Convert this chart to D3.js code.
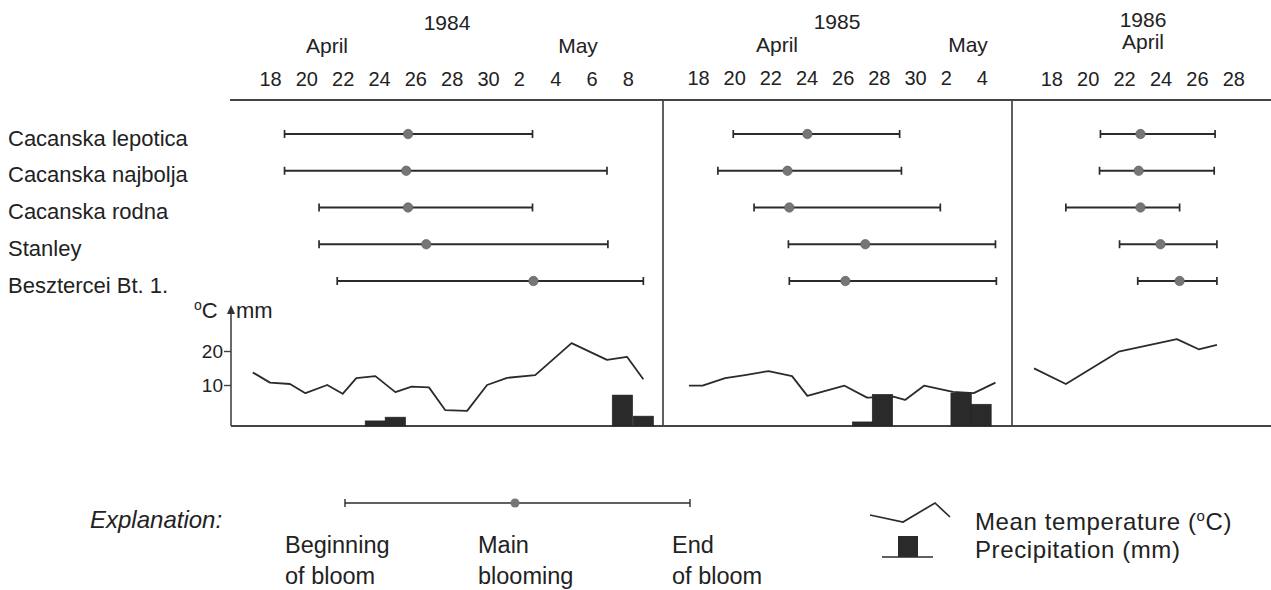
<!DOCTYPE html>
<html><head><meta charset="utf-8">
<script src="https://cdn.jsdelivr.net/npm/d3@7"></script>
<style>
body{margin:0;background:#fff;}
svg{display:block;font-family:"Liberation Sans", Arial, Helvetica, sans-serif;fill:#222;}
</style></head><body>
<svg id="c" width="1271" height="590"></svg>
<script>
// ---------- DATA (days counted from April; May 1 = 31) ----------
const varieties = ["Cacanska lepotica","Cacanska najbolja","Cacanska rodna","Stanley","Besztercei Bt. 1."];
const years = ["1984","1985","1986"];

// [beginning, main blooming, end]
const bloom1984 = [[18.8,25.6,32.45],[18.8,25.5,36.55],[20.7,25.6,32.45],[20.7,26.6,36.6],[21.7,32.5,38.55]];
const bloom1985 = [[19.95,24.05,29.15],[19.1,22.95,29.25],[21.1,23.05,31.4],[23.0,27.25,34.45],[23.05,26.15,34.5]];
const bloom1986 = [[20.7,22.9,27.0],[20.65,22.8,26.95],[18.8,22.9,25.05],[21.75,24.0,27.1],[22.75,25.05,27.1]];

// mean temperature (°C)
const tempDays1984 = [17.05,18,19.1,19.95,21.15,22,22.75,23.8,24.9,25.8,26.75,27.65,28.85,29.95,31.05,32.6,34.6,36.55,37.65,38.55];
const temp1984     = [13.7,10.7,10.3,7.6,10,7.4,12,12.6,7.9,9.5,9.3,2.6,2.4,10,12.1,12.9,22.3,17.4,18.3,11.7];
const tempDays1985 = [17.5,18.25,19.5,20.6,21.9,23.2,24.05,26.1,27.35,28.8,29.45,30.5,32.1,33.25,34.45];
const temp1985     = [9.8,9.8,12.0,12.9,14.1,12.6,6.8,9.8,6.3,6.6,5.6,9.8,8.0,7.6,10.7];
const tempDays1986 = [17.05,18.8,21.7,24.9,26.1,27.1];
const temp1986     = [14.9,10.3,19.8,23.5,20.5,21.8];

// precipitation (mm)
const precDays1984 = [23.8,24.9,37.4,38.55];
const prec1984     = [1.5,2.6,9.1,2.9];
const precDays1985 = [27.1,28.2,32.55,33.65];
const prec1985     = [1.2,9.3,9.7,6.4];
const precDays1986 = [];
const prec1986     = [];

// tick labels
const ticks1984 = [18,20,22,24,26,28,30,32,34,36,38];
const tickLabels1984 = ["18","20","22","24","26","28","30","2","4","6","8"];
const ticks1985 = [18,20,22,24,26,28,30,32,34];
const tickLabels1985 = ["18","20","22","24","26","28","30","2","4"];
const ticks1986 = [18,20,22,24,26,28];
const tickLabels1986 = ["18","20","22","24","26","28"];
const tempTicks = [10,20];

// ---------- LAYOUT ----------
const svg = d3.select("#c");
const INK = "#2b2b2b";
const topY = 100, baseY = 426, axisX = 231, dividers = [663, 1012];

const panels = [
  {year:"1984", x:d3.scaleLinear().domain([18,30]).range([270,488]), bloom:bloom1984,
   td:tempDays1984, t:temp1984, pd:precDays1984, p:prec1984, ticks:ticks1984, labels:tickLabels1984,
   tickY:86, yearPos:[447,30], months:[["April",327,53],["May",578,53]]},
  {year:"1985", x:d3.scaleLinear().domain([18,30]).range([698,915]), bloom:bloom1985,
   td:tempDays1985, t:temp1985, pd:precDays1985, p:prec1985, ticks:ticks1985, labels:tickLabels1985,
   tickY:85, yearPos:[837,28.5], months:[["April",777,51.5],["May",968,51.5]]},
  {year:"1986", x:d3.scaleLinear().domain([18,28]).range([1051.3,1233.3]), bloom:bloom1986,
   td:tempDays1986, t:temp1986, pd:precDays1986, p:prec1986, ticks:ticks1986, labels:tickLabels1986,
   tickY:86, yearPos:[1143,26.5], months:[["April",1143,49]]}
];

const yRow = d3.scalePoint().domain(varieties).range([134, 281]);
const yT = d3.scaleLinear().domain([10,20]).range([385,351]);
const yP = d3.scaleLinear().domain([0,10]).range([baseY, baseY-34]);

// frame lines
svg.append("line").attr("x1",axisX-1).attr("x2",1271).attr("y1",topY).attr("y2",topY)
  .attr("stroke","#444").attr("stroke-width",2);
svg.append("line").attr("x1",axisX).attr("x2",1271).attr("y1",baseY).attr("y2",baseY)
  .attr("stroke","#444").attr("stroke-width",2);
dividers.forEach(dx => svg.append("line").attr("x1",dx).attr("x2",dx).attr("y1",topY).attr("y2",baseY)
  .attr("stroke","#444").attr("stroke-width",1.7));

// variety labels
svg.append("g").selectAll("text").data(varieties).join("text")
  .attr("x",8).attr("y",d=>yRow(d)+11.5).attr("font-size",22).attr("fill","#222").text(d=>d);

panels.forEach(P => {
  const g = svg.append("g");
  // year + months
  g.append("text").attr("x",P.yearPos[0]).attr("y",P.yearPos[1]).attr("text-anchor","middle")
    .attr("font-size",21).attr("fill","#222").text(P.year);
  P.months.forEach(m => g.append("text").attr("x",m[1]).attr("y",m[2]).attr("text-anchor","middle")
    .attr("font-size",21).attr("fill","#222").text(m[0]));
  // day axis
  const ax = g.append("g").attr("transform",`translate(0,${P.tickY})`)
    .call(d3.axisTop(P.x).tickValues(P.ticks).tickFormat((d,i)=>P.labels[i]).tickSize(0));
  ax.select(".domain").remove();
  ax.selectAll("text").attr("y",0).attr("dy",null).attr("font-size",20)
    .attr("font-family","Liberation Sans, Arial, sans-serif").attr("fill","#222")
    .attr("text-anchor",(d,i)=>P.labels[i].length===1?"start":"middle")
    .attr("x",(d,i)=>P.labels[i].length===1?-11:0);

  // bloom intervals
  const rows = g.append("g").selectAll("g").data(P.bloom).join("g")
    .attr("transform",(d,i)=>`translate(0,${yRow(varieties[i])})`);
  rows.append("line").attr("x1",d=>P.x(d[0])).attr("x2",d=>P.x(d[2]))
    .attr("stroke",INK).attr("stroke-width",1.8);
  rows.append("line").attr("x1",d=>P.x(d[0])).attr("x2",d=>P.x(d[0])).attr("y1",-4).attr("y2",4)
    .attr("stroke",INK).attr("stroke-width",1.7);
  rows.append("line").attr("x1",d=>P.x(d[2])).attr("x2",d=>P.x(d[2])).attr("y1",-4).attr("y2",4)
    .attr("stroke",INK).attr("stroke-width",1.7);
  rows.append("circle").attr("cx",d=>P.x(d[1])).attr("r",4.7).attr("fill","#767676")
    .attr("stroke","#5e5e5e").attr("stroke-width",0.7);

  // precipitation bars
  const bw = 20.4;
  g.append("g").selectAll("rect").data(P.pd.map((d,i)=>[d,P.p[i]])).join("rect")
    .attr("x",d=>P.x(d[0])-bw/2).attr("width",bw)
    .attr("y",d=>yP(d[1])).attr("height",d=>baseY-yP(d[1]))
    .attr("fill","#2a2a2a").attr("stroke","#222").attr("stroke-width",0.6);

  // temperature line
  const line = d3.line().x(d=>P.x(d[0])).y(d=>yT(d[1]));
  g.append("path").datum(P.td.map((d,i)=>[d,P.t[i]])).attr("d",line)
    .attr("fill","none").attr("stroke",INK).attr("stroke-width",1.8).attr("stroke-linejoin","round");
});

// temperature / precipitation axis
svg.append("line").attr("x1",axisX).attr("x2",axisX).attr("y1",311).attr("y2",baseY)
  .attr("stroke","#444").attr("stroke-width",1.6);
svg.append("path").attr("d",`M${axisX},305 L${axisX-4},314 L${axisX+4},314 Z`).attr("fill","#333");
const ya = svg.append("g").attr("transform",`translate(${axisX},0)`)
  .call(d3.axisLeft(yT).tickValues(tempTicks).tickSize(7).tickPadding(1));
ya.select(".domain").remove();
ya.selectAll("line").attr("stroke","#444").attr("stroke-width",1.4);
ya.selectAll("text").attr("font-size",19).attr("fill","#222")
  .attr("font-family","Liberation Sans, Arial, sans-serif");
const unit = svg.append("text").attr("x",194).attr("y",318).attr("font-size",22).attr("fill","#222");
unit.append("tspan").attr("font-size",14).attr("dy",-8).text("o");
unit.append("tspan").attr("dy",8).text("C");
svg.append("text").attr("x",236).attr("y",318).attr("font-size",22).attr("fill","#222").text("mm");

// ---------- LEGEND ----------
const L = svg.append("g");
L.append("text").attr("x",90).attr("y",528).attr("font-size",24).attr("font-style","italic")
  .attr("fill","#222").text("Explanation:");
L.append("line").attr("x1",345).attr("x2",690).attr("y1",503).attr("y2",503).attr("stroke",INK).attr("stroke-width",1.5);
[345,690].forEach(x=>L.append("line").attr("x1",x).attr("x2",x).attr("y1",499).attr("y2",507)
  .attr("stroke",INK).attr("stroke-width",1.4));
L.append("circle").attr("cx",515).attr("cy",503).attr("r",4.5).attr("fill","#767676");
[["Beginning","of bloom",285],["Main","blooming",478],["End","of bloom",672]].forEach(t=>{
  L.append("text").attr("x",t[2]).attr("y",553).attr("font-size",23.5).attr("fill","#222").text(t[0]);
  L.append("text").attr("x",t[2]).attr("y",584).attr("font-size",23.5).attr("fill","#222").text(t[1]);
});
L.append("path").attr("d","M870,515 L903,522 L935,503 L950,517").attr("fill","none")
  .attr("stroke",INK).attr("stroke-width",1.7);
L.append("rect").attr("x",898).attr("y",536).attr("width",20).attr("height",21).attr("fill","#2a2a2a");
L.append("line").attr("x1",882).attr("x2",933).attr("y1",557).attr("y2",557).attr("stroke",INK).attr("stroke-width",1.7);
const mt = L.append("text").attr("x",975).attr("y",530).attr("font-size",24).attr("letter-spacing",0.6).attr("fill","#222");
mt.append("tspan").text("Mean temperature (");
mt.append("tspan").attr("font-size",15).attr("dy",-9).text("o");
mt.append("tspan").attr("dy",9).text("C)");
L.append("text").attr("x",975).attr("y",558).attr("font-size",24).attr("letter-spacing",0.6).attr("fill","#222").text("Precipitation (mm)");
</script>
</body></html>
